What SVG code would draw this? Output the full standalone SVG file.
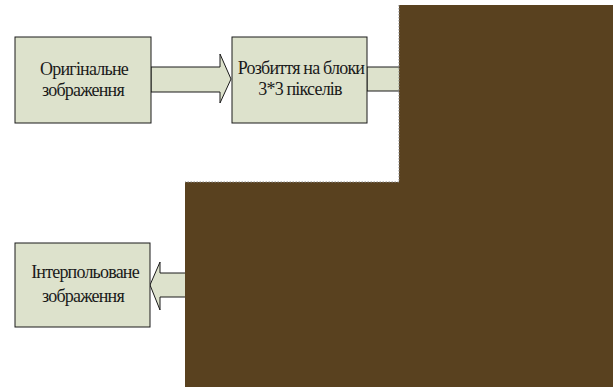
<svg xmlns="http://www.w3.org/2000/svg" width="613" height="387" viewBox="0 0 613 387">
<style>
.box{fill:#dde2cc;stroke:#1a1a1a;stroke-width:1}
.arr{fill:#dde2cc;stroke:#1a1a1a;stroke-width:1}
.t{font-family:"Liberation Serif","Times New Roman",serif;font-size:18px;fill:#1a1a1a;text-anchor:middle;letter-spacing:-0.8px}
</style>
<rect width="613" height="387" fill="#ffffff"/>
<g id="connectors">
<polygon class="arr" points="151,67 220,67 220,54 231,79 220,103 220,92 151,92"/>
<polygon class="arr" points="367,67 405,67 405,91 367,91"/>
<polygon class="arr" points="190,273 160,273 160,262 150,285 160,310 160,297 190,297"/>
</g>
<g id="node-original">
<rect class="box" x="15" y="37" width="136" height="86"/>
<text class="t" x="84" y="75">Оригінальне</text>
<text class="t" x="83" y="96">зображення</text>
</g>
<g id="node-split">
<rect class="box" x="232" y="37" width="135" height="86"/>
<text class="t" x="301" y="74">Розбиття на блоки</text>
<text class="t" x="300" y="95">3*3 пікселів</text>
</g>
<g id="node-interp">
<rect class="box" x="15" y="243" width="135" height="84"/>
<text class="t" x="85" y="278">Інтерпольоване</text>
<text class="t" x="83" y="302">зображення</text>
</g>
<path d="M399,5 H613 V387 H185 V182 H399 Z" fill="#59411f"/>
<path d="M399,5 V182 H185" fill="none" stroke="#8a8a8a" stroke-width="1" stroke-dasharray="1.5,1.5"/>
</svg>
